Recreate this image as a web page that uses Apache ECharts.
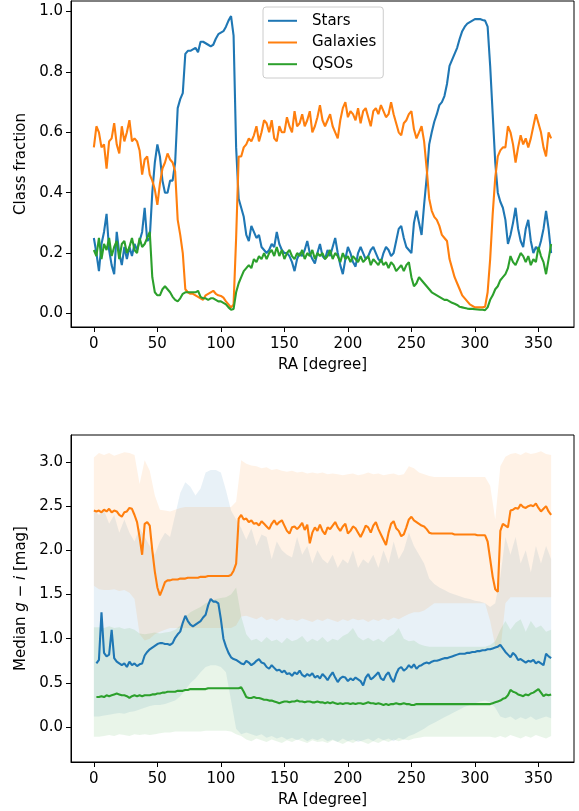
<!DOCTYPE html>
<html>
<head>
<meta charset="utf-8">
<script src="https://cdn.jsdelivr.net/npm/echarts@6/dist/echarts.min.js"></script>
<style>
  html, body { margin: 0; padding: 0; background: #fff; }
  #chart { width: 579px; height: 811px; }
</style>
</head>
<body>
<div id="chart"></div>
<script>
// RA grid of the class-fraction and median curves (degrees)
const ra = [
  0,2,4,6,8,10,12,14,16,18, 20,22,24,26,28,30,32,34,36,38,
  40,42,44,46,48,50,52,54,56,58, 60,62,64,66,68,70,72,74,76,78,
  80,82,84,86,88,90,92,94,96,98, 100,102,104,106,108,110,112,114,116,118,
  120,122,124,126,128,130,132,134,136,138, 140,142,144,146,148,150,152,154,156,158,
  160,162,164,166,168,170,172,174,176,178, 180,182,184,186,188,190,192,194,196,198,
  200,202,204,206,208,210,212,214,216,218, 220,222,224,226,228,230,232,234,236,238,
  240,242,244,246,248,250,252,254,256,258, 260,262,264,266,268,270,272,274,276,278,
  280,282,284,286,288,290,292,294,296,298, 300,302,304,306,308,310,312,314,316,318,
  320,322,324,326,328,330,332,334,336,338, 340,342,344,346,348,350,352,354,356,358,
  360
];
// class fractions
const stars = [
  0.25,0.20,0.14,0.23,0.27,0.33,0.21,0.16,0.13,0.27,
  0.20,0.16,0.22,0.18,0.22,0.19,0.23,0.21,0.24,0.27,
  0.35,0.24,0.25,0.40,0.50,0.56,0.52,0.44,0.40,0.40,
  0.44,0.44,0.50,0.68,0.71,0.73,0.86,0.87,0.87,0.875,
  0.88,0.865,0.90,0.90,0.895,0.89,0.885,0.89,0.91,0.925,
  0.93,0.935,0.95,0.97,0.985,0.92,0.55,0.38,0.35,0.32,
  0.26,0.24,0.29,0.27,0.25,0.26,0.22,0.21,0.20,0.21,
  0.23,0.22,0.27,0.23,0.21,0.20,0.20,0.19,0.17,0.14,
  0.18,0.20,0.19,0.21,0.24,0.20,0.18,0.165,0.20,0.23,
  0.19,0.18,0.21,0.19,0.22,0.25,0.20,0.16,0.13,0.18,
  0.22,0.20,0.17,0.155,0.20,0.22,0.20,0.18,0.19,0.21,
  0.22,0.20,0.18,0.17,0.20,0.22,0.21,0.19,0.20,0.24,
  0.28,0.29,0.25,0.22,0.21,0.20,0.30,0.34,0.30,0.26,
  0.36,0.45,0.56,0.60,0.635,0.66,0.69,0.70,0.72,0.76,
  0.82,0.84,0.86,0.88,0.91,0.935,0.95,0.96,0.965,0.97,
  0.975,0.975,0.975,0.972,0.97,0.95,0.82,0.66,0.50,0.40,
  0.37,0.35,0.31,0.23,0.26,0.30,0.35,0.28,0.24,0.22,
  0.28,0.31,0.24,0.20,0.22,0.21,0.24,0.28,0.34,0.28,
  0.20
];
const galaxies = [
  0.55,0.62,0.60,0.55,0.56,0.48,0.57,0.58,0.63,0.56,
  0.53,0.62,0.57,0.60,0.64,0.57,0.58,0.57,0.54,0.46,
  0.51,0.52,0.46,0.44,0.41,0.36,0.43,0.48,0.50,0.53,
  0.51,0.50,0.47,0.31,0.26,0.20,0.08,0.07,0.065,0.065,
  0.06,0.055,0.05,0.045,0.06,0.065,0.07,0.075,0.065,0.06,
  0.058,0.052,0.04,0.03,0.02,0.03,0.25,0.52,0.52,0.55,
  0.56,0.58,0.57,0.59,0.62,0.57,0.60,0.64,0.63,0.60,
  0.64,0.58,0.57,0.62,0.60,0.60,0.65,0.62,0.60,0.67,
  0.62,0.63,0.66,0.62,0.64,0.67,0.60,0.62,0.65,0.69,
  0.64,0.62,0.64,0.66,0.62,0.60,0.58,0.64,0.68,0.70,
  0.65,0.67,0.66,0.64,0.68,0.63,0.67,0.68,0.65,0.62,
  0.67,0.68,0.66,0.69,0.67,0.65,0.66,0.70,0.66,0.63,
  0.60,0.59,0.63,0.64,0.66,0.67,0.61,0.58,0.60,0.62,
  0.57,0.48,0.38,0.34,0.32,0.31,0.29,0.26,0.25,0.24,
  0.18,0.15,0.12,0.10,0.08,0.06,0.05,0.04,0.03,0.025,
  0.02,0.02,0.02,0.02,0.022,0.07,0.18,0.33,0.45,0.52,
  0.54,0.55,0.55,0.62,0.60,0.56,0.50,0.55,0.59,0.56,
  0.58,0.55,0.58,0.62,0.66,0.63,0.60,0.55,0.52,0.60,
  0.58
];
const qsos = [
  0.21,0.19,0.25,0.18,0.23,0.21,0.25,0.19,0.22,0.24,
  0.18,0.23,0.24,0.20,0.22,0.25,0.21,0.20,0.25,0.22,
  0.23,0.25,0.27,0.12,0.07,0.06,0.06,0.08,0.09,0.08,
  0.07,0.055,0.045,0.04,0.05,0.065,0.07,0.07,0.07,0.07,
  0.07,0.075,0.055,0.05,0.05,0.045,0.05,0.05,0.045,0.04,
  0.04,0.035,0.03,0.02,0.012,0.015,0.07,0.10,0.12,0.14,
  0.15,0.16,0.15,0.18,0.17,0.19,0.18,0.20,0.18,0.20,
  0.21,0.19,0.22,0.19,0.21,0.18,0.20,0.21,0.19,0.18,
  0.20,0.19,0.21,0.18,0.20,0.19,0.21,0.18,0.20,0.19,
  0.20,0.18,0.19,0.21,0.18,0.20,0.19,0.17,0.20,0.18,
  0.19,0.17,0.19,0.18,0.17,0.19,0.17,0.18,0.19,0.16,
  0.18,0.17,0.16,0.18,0.16,0.17,0.15,0.17,0.16,0.14,
  0.15,0.16,0.14,0.16,0.17,0.12,0.09,0.10,0.12,0.11,
  0.10,0.09,0.08,0.07,0.065,0.06,0.055,0.05,0.045,0.045,
  0.04,0.035,0.032,0.028,0.022,0.02,0.018,0.016,0.015,0.015,
  0.014,0.013,0.012,0.012,0.011,0.02,0.045,0.06,0.08,0.09,
  0.11,0.12,0.13,0.15,0.19,0.17,0.16,0.18,0.20,0.19,
  0.17,0.19,0.16,0.18,0.17,0.22,0.19,0.17,0.13,0.18,
  0.23
];
// median g-i per class (mag)
const giGalaxies = [
  2.45,2.44,2.45,2.43,2.46,2.44,2.47,2.43,2.45,2.44,
  2.40,2.38,2.43,2.44,2.48,2.47,2.40,2.32,2.15,1.95,
  2.30,2.32,2.28,2.00,1.76,1.58,1.49,1.56,1.64,1.66,
  1.66,1.67,1.67,1.67,1.68,1.68,1.68,1.69,1.69,1.69,
  1.69,1.69,1.70,1.70,1.70,1.71,1.71,1.71,1.71,1.71,
  1.71,1.71,1.71,1.71,1.72,1.77,1.85,2.36,2.40,2.35,
  2.36,2.32,2.34,2.30,2.31,2.28,2.33,2.30,2.27,2.24,
  2.30,2.34,2.29,2.32,2.34,2.28,2.22,2.19,2.26,2.27,
  2.24,2.27,2.31,2.23,2.29,2.08,2.20,2.26,2.22,2.29,
  2.22,2.18,2.26,2.24,2.28,2.32,2.26,2.22,2.27,2.30,
  2.19,2.22,2.27,2.25,2.20,2.15,2.21,2.28,2.26,2.20,
  2.28,2.32,2.24,2.18,2.12,2.06,2.20,2.30,2.33,2.25,
  2.22,2.16,2.18,2.26,2.35,2.38,2.34,2.32,2.30,2.28,
  2.27,2.24,2.20,2.19,2.19,2.19,2.19,2.19,2.19,2.19,
  2.19,2.19,2.18,2.18,2.18,2.18,2.18,2.18,2.18,2.18,
  2.18,2.17,2.17,2.17,2.17,2.10,1.90,1.70,1.56,1.53,
  2.22,2.30,2.28,2.26,2.45,2.46,2.48,2.47,2.52,2.49,
  2.48,2.50,2.51,2.50,2.53,2.48,2.44,2.47,2.50,2.44,
  2.40
];
const giStars = [
  null,0.72,0.76,1.30,0.84,0.80,0.82,1.10,0.78,0.74,
  0.72,0.70,0.72,0.68,0.74,0.70,0.72,0.69,0.71,0.72,
  0.81,0.85,0.88,0.90,0.92,0.94,0.95,0.95,0.94,0.94,
  0.93,0.95,1.01,1.05,1.08,1.18,1.26,1.20,1.16,1.14,
  1.16,1.18,1.20,1.24,1.27,1.38,1.45,1.42,1.42,1.40,
  1.22,1.00,0.91,0.84,0.79,0.77,0.76,0.74,0.72,0.71,
  0.75,0.73,0.70,0.72,0.75,0.77,0.73,0.72,0.68,0.66,
  0.70,0.67,0.64,0.65,0.62,0.64,0.60,0.61,0.58,0.62,
  0.60,0.64,0.59,0.57,0.60,0.58,0.61,0.56,0.58,0.55,
  0.60,0.57,0.53,0.58,0.62,0.56,0.51,0.55,0.57,0.56,
  0.52,0.55,0.53,0.56,0.54,0.52,0.47,0.56,0.60,0.54,
  0.56,0.59,0.62,0.55,0.53,0.59,0.62,0.55,0.51,0.60,
  0.66,0.68,0.64,0.66,0.70,0.67,0.71,0.66,0.69,0.70,
  0.72,0.73,0.72,0.74,0.75,0.75,0.76,0.77,0.78,0.78,
  0.79,0.80,0.81,0.82,0.83,0.83,0.83,0.84,0.84,0.85,
  0.85,0.86,0.86,0.87,0.87,0.88,0.88,0.89,0.90,0.91,
  0.93,0.89,0.85,0.82,0.79,0.84,0.81,0.76,0.77,0.75,
  0.73,0.75,0.74,0.76,0.72,0.74,0.72,0.70,0.83,0.80,
  0.78
];
const giQsos = [
  null,0.34,0.34,0.35,0.34,0.36,0.35,0.36,0.37,0.38,
  0.37,0.36,0.36,0.35,0.33,0.35,0.36,0.35,0.36,0.35,
  0.36,0.36,0.36,0.37,0.37,0.38,0.38,0.39,0.39,0.40,
  0.40,0.40,0.40,0.41,0.41,0.41,0.42,0.42,0.43,0.43,
  0.43,0.43,0.43,0.43,0.43,0.44,0.44,0.44,0.44,0.44,
  0.44,0.44,0.44,0.44,0.44,0.44,0.44,0.44,0.45,0.40,
  0.34,0.33,0.33,0.34,0.33,0.33,0.32,0.31,0.31,0.30,
  0.30,0.29,0.28,0.27,0.28,0.29,0.29,0.28,0.29,0.29,
  0.30,0.29,0.29,0.28,0.29,0.29,0.28,0.28,0.29,0.28,
  0.28,0.27,0.28,0.27,0.28,0.27,0.26,0.27,0.26,0.27,
  0.27,0.26,0.27,0.26,0.27,0.27,0.26,0.27,0.28,0.27,
  0.27,0.26,0.27,0.26,0.25,0.26,0.25,0.26,0.26,0.27,
  0.26,0.26,0.27,0.26,0.26,0.25,0.25,0.26,0.26,0.26,
  0.26,0.26,0.26,0.26,0.26,0.26,0.26,0.26,0.26,0.26,
  0.26,0.26,0.26,0.26,0.26,0.26,0.26,0.26,0.26,0.26,
  0.26,0.26,0.26,0.26,0.26,0.26,0.26,0.27,0.28,0.29,
  0.30,0.32,0.33,0.36,0.42,0.40,0.39,0.37,0.36,0.35,
  0.37,0.36,0.38,0.39,0.41,0.43,0.39,0.35,0.37,0.36,
  0.37
];
// RA grid of the spread bands
const raBand = [
  0,4,8,12,16,20,24,28,32,36, 40,44,48,52,56,60,64,68,72,76,
  80,84,88,92,96,100,104,108,112,116, 120,124,128,132,136,140,144,148,152,156,
  160,164,168,172,176,180,184,188,192,196, 200,204,208,212,216,220,224,228,232,236,
  240,244,248,252,256,260,264,268,272,276, 280,284,288,292,296,300,304,308,312,316,
  320,324,328,332,336,340,344,348,352,356, 360
];
const galHi = [
  3.05,3.10,3.08,3.10,3.07,3.09,3.11,3.10,3.08,2.75,
  3.02,2.90,2.62,2.46,2.45,2.44,2.46,2.48,2.49,2.49,
  2.49,2.49,2.49,2.49,2.49,2.49,2.49,2.49,2.55,3.02,
  2.98,2.96,2.95,2.93,2.94,2.91,2.92,2.90,2.89,2.90,
  2.88,2.89,2.87,2.88,2.87,2.88,2.86,2.87,2.86,2.85,
  2.86,2.87,2.85,2.86,2.88,2.86,2.87,2.85,2.86,2.87,
  2.85,2.86,2.95,2.93,2.88,2.86,2.84,2.83,2.83,2.83,
  2.83,2.83,2.83,2.83,2.83,2.83,2.83,2.83,2.73,2.35,
  2.95,3.06,3.09,3.10,3.08,3.11,3.09,3.10,3.12,3.09,
  3.08
];
const galLo = [
  1.60,1.56,1.55,1.55,1.56,1.54,1.55,1.52,1.45,1.05,
  0.98,1.00,1.05,1.08,1.10,1.12,1.12,1.12,1.12,1.12,
  1.12,1.12,1.12,1.12,1.12,1.12,1.12,1.12,1.15,1.25,
  1.26,1.24,1.22,1.25,1.21,1.23,1.20,1.24,1.21,1.22,
  1.20,1.23,1.21,1.19,1.22,1.20,1.23,1.21,1.19,1.22,
  1.20,1.23,1.21,1.22,1.19,1.22,1.20,1.23,1.21,1.24,
  1.22,1.25,1.28,1.30,1.30,1.32,1.36,1.40,1.40,1.40,
  1.40,1.40,1.40,1.40,1.40,1.40,1.40,1.40,1.20,0.92,
  0.86,1.40,1.47,1.47,1.47,1.47,1.47,1.47,1.47,1.47,
  1.47
];
const starHi = [
  2.45,2.40,2.45,2.30,2.40,2.20,2.35,2.20,2.10,2.25,
  2.15,2.05,1.95,2.10,2.20,2.15,2.40,2.65,2.77,2.72,
  2.62,2.70,2.88,2.91,2.91,2.88,2.68,2.45,2.35,2.25,
  2.12,2.25,2.05,2.18,2.15,1.90,2.10,2.00,1.95,1.92,
  2.15,1.95,2.05,1.85,2.00,1.90,1.85,1.95,1.80,1.90,
  1.85,2.00,1.80,1.90,1.85,1.95,1.80,2.00,1.85,2.10,
  1.90,2.00,2.20,2.05,1.95,1.85,1.68,1.62,1.58,1.55,
  1.52,1.50,1.48,1.46,1.45,1.43,1.42,1.40,1.36,1.40,
  1.70,2.15,1.95,2.15,1.85,2.00,1.75,2.05,1.85,2.05,
  1.90
];
const starLo = [
  0.12,0.12,0.13,0.14,0.15,0.16,0.15,0.17,0.18,0.20,
  0.22,0.24,0.25,0.25,0.26,0.28,0.30,0.35,0.42,0.50,
  0.55,0.62,0.68,0.70,0.70,0.68,0.62,0.30,-0.02,-0.08,
  -0.06,-0.08,-0.10,-0.08,-0.12,-0.10,-0.13,-0.11,-0.14,-0.12,
  -0.15,-0.12,-0.16,-0.13,-0.15,-0.12,-0.16,-0.14,-0.17,-0.13,
  -0.16,-0.14,-0.17,-0.15,-0.13,-0.16,-0.12,-0.15,-0.13,-0.16,
  -0.12,-0.14,-0.10,-0.08,-0.05,-0.02,0.02,0.05,0.08,0.11,
  0.14,0.17,0.20,0.23,0.25,0.27,0.29,0.30,0.28,0.22,
  0.12,0.10,0.12,0.08,0.11,0.09,0.12,0.08,0.10,0.12,
  0.10
];
const qsoHi = [
  1.13,1.13,1.12,1.14,1.12,1.13,1.11,1.12,1.10,1.06,
  1.05,1.06,1.07,1.06,1.07,1.08,1.10,1.15,1.25,1.30,
  1.33,1.36,1.40,1.43,1.45,1.46,1.47,1.50,1.58,1.25,
  1.05,0.98,1.00,0.96,1.02,0.97,0.99,0.95,1.01,0.97,
  0.99,1.03,0.96,1.00,0.97,1.02,0.96,1.00,0.98,1.03,
  1.06,1.12,1.02,0.98,1.01,0.97,1.00,0.96,1.02,1.05,
  1.12,1.00,0.97,0.98,0.94,0.92,0.91,0.91,0.91,0.91,
  0.91,0.91,0.91,0.91,0.91,0.91,0.91,0.91,0.93,0.97,
  1.10,1.20,1.10,1.18,1.22,1.08,1.20,1.12,1.15,1.08,
  1.10
];
const qsoLo = [
  -0.11,-0.11,-0.10,-0.09,-0.10,-0.08,-0.09,-0.10,-0.08,-0.09,
  -0.08,-0.09,-0.08,-0.07,-0.06,-0.06,-0.05,-0.05,-0.05,-0.05,
  -0.05,-0.05,-0.04,-0.04,-0.04,-0.04,-0.04,-0.05,-0.08,-0.10,
  -0.14,-0.16,-0.13,-0.15,-0.17,-0.14,-0.16,-0.18,-0.15,-0.17,
  -0.14,-0.16,-0.18,-0.15,-0.17,-0.16,-0.18,-0.15,-0.17,-0.19,
  -0.16,-0.18,-0.15,-0.17,-0.19,-0.16,-0.18,-0.15,-0.17,-0.14,
  -0.16,-0.14,-0.15,-0.13,-0.12,-0.11,-0.11,-0.11,-0.11,-0.11,
  -0.11,-0.11,-0.11,-0.11,-0.11,-0.11,-0.11,-0.11,-0.11,-0.12,
  -0.10,-0.12,-0.09,-0.11,-0.13,-0.10,-0.12,-0.09,-0.11,-0.13,
  -0.10
];
// tick labels
const raTicks = [0, 50, 100, 150, 200, 250, 300, 350];
const fracTicks = [0, 0.2, 0.4, 0.6, 0.8, 1.0];
const giTicks = [0, 0.5, 1.0, 1.5, 2.0, 2.5, 3.0];

const FONT = 'DejaVu Sans';
const FS = 15;
const BLUE = '#1f77b4', ORANGE = '#ff7f0e', GREEN = '#2ca02c';

const pairs = (xs, ys) => xs.map((x, i) => [x, ys[i]]);

function raAxis(gridIndex) {
  return {
    type: 'value', gridIndex, min: -18, max: 378,
    name: 'RA [degree]', nameLocation: 'middle', nameGap: 31,
    nameTextStyle: { fontFamily: FONT, fontSize: FS, color: '#000' },
    axisLine: { show: true, onZero: false, lineStyle: { color: '#000', width: 1 } },
    axisTick: { show: true, length: 5, customValues: raTicks, lineStyle: { color: '#000' } },
    axisLabel: { customValues: raTicks, fontFamily: FONT, fontSize: FS, color: '#000', margin: 10 },
    splitLine: { show: false }
  };
}
function valueAxis(gridIndex, min, max, ticks, name, rich) {
  return {
    type: 'value', gridIndex, min, max,
    name, nameLocation: 'middle', nameRotate: 90, nameGap: 42,
    nameTextStyle: { fontFamily: FONT, fontSize: FS, color: '#000', rich },
    axisLine: { show: true, onZero: false, lineStyle: { color: '#000', width: 1 } },
    axisTick: { show: true, length: 5, customValues: ticks, lineStyle: { color: '#000' } },
    axisLabel: {
      customValues: ticks, fontFamily: FONT, fontSize: FS, color: '#000', margin: 8,
      formatter: v => v.toFixed(1)
    },
    splitLine: { show: false }
  };
}
function curve(name, xs, ys, color, axisIndex) {
  return {
    type: 'line', name, xAxisIndex: axisIndex, yAxisIndex: axisIndex,
    data: pairs(xs, ys), symbol: 'none', showSymbol: false,
    lineStyle: { color, width: 2.1 }, itemStyle: { color }
  };
}
// filled spread between lo and hi, drawn as one polygon through the axis scales
function band(name, hi, lo, fill) {
  return {
    type: 'custom', name, xAxisIndex: 1, yAxisIndex: 1, silent: true, clip: true,
    data: [[raBand[0], lo[0]]],
    renderItem: (params, api) => {
      const pts = raBand.map((x, i) => api.coord([x, hi[i]]));
      for (let i = raBand.length - 1; i >= 0; i--) pts.push(api.coord([raBand[i], lo[i]]));
      return { type: 'polygon', shape: { points: pts }, style: { fill: fill, stroke: null } };
    }
  };
}

const chart = echarts.init(document.getElementById('chart'), null, { renderer: 'canvas' });
chart.setOption({
  animation: false,
  backgroundColor: '#fff',
  grid: [
    { left: 71, right: 5, top: 1, height: 326, show: true, borderColor: '#000', borderWidth: 1 },
    { left: 71, right: 5, top: 435, height: 327, show: true, borderColor: '#000', borderWidth: 1 }
  ],
  xAxis: [raAxis(0), raAxis(1)],
  yAxis: [
    valueAxis(0, -0.045, 1.035, fracTicks, 'Class fraction'),
    valueAxis(1, -0.395, 3.305, giTicks, '{n|Median }{i|g}{n| − }{i|i}{n| [mag]}', {
      n: { fontFamily: FONT, fontSize: FS, color: '#000' },
      i: { fontFamily: FONT, fontSize: FS, color: '#000', fontStyle: 'italic' }
    })
  ],
  legend: {
    data: ['Stars', 'Galaxies', 'QSOs'],
    orient: 'vertical', left: 263, top: 7,
    icon: 'rect', itemWidth: 29, itemHeight: 2, itemGap: 6.7,
    padding: [6.3, 7, 6.3, 5],
    borderColor: '#cccccc', borderWidth: 1, borderRadius: 3,
    backgroundColor: 'rgba(255,255,255,0.8)',
    textStyle: { fontFamily: FONT, fontSize: FS, color: '#000', lineHeight: 15, padding: [0, 0, 0, 10] }
  },
  series: [
    curve('Stars', ra, stars, BLUE, 0),
    curve('Galaxies', ra, galaxies, ORANGE, 0),
    curve('QSOs', ra, qsos, GREEN, 0),
    band('starBand', starHi, starLo, 'rgba(31,119,180,0.1)'),
    band('galBand', galHi, galLo, 'rgba(255,127,14,0.1)'),
    band('qsoBand', qsoHi, qsoLo, 'rgba(44,160,44,0.1)'),
    curve('Stars g-i', ra, giStars, BLUE, 1),
    curve('Galaxies g-i', ra, giGalaxies, ORANGE, 1),
    curve('QSOs g-i', ra, giQsos, GREEN, 1)
  ]
});
</script>
</body>
</html>
